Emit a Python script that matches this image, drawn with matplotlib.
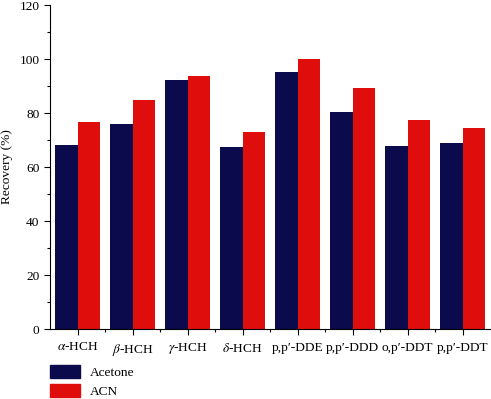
import matplotlib.pyplot as plt
import matplotlib.patches as mpatches
import numpy as np
from matplotlib.ticker import MultipleLocator, FixedLocator

plt.rcParams['font.family'] = ['Liberation Serif', 'DejaVu Serif']
plt.rcParams['mathtext.fontset'] = 'stix'

compounds = [r'$\alpha$-HCH', r'$\beta$-HCH', r'$\gamma$-HCH', r'$\delta$-HCH',
             'p,p\u2032-DDE', 'p,p\u2032-DDD', 'o,p\u2032-DDT', 'p,p\u2032-DDT']
acetone = [68.0, 76.1, 92.4, 67.3, 95.2, 80.3, 67.7, 69.0]
acn = [76.7, 84.8, 93.7, 73.0, 100.0, 89.2, 77.3, 74.6]

navy = '#0b0a4c'
red = '#e00d0d'
fs = 9.6

fig = plt.figure(figsize=(4.91, 3.99), dpi=100)
ax = fig.add_axes([50 / 491, 70 / 399, 440 / 491, 324 / 399])

x = np.arange(1, len(compounds) + 1)
w = 0.41
ax.bar(x - w / 2, acetone, w, color=navy)
ax.bar(x + w / 2, acn, w, color=red)

ax.set_xlim(0.5, len(compounds) + 0.5)
ax.set_ylim(0, 120)
ax.set_xticks(x)
ax.set_xticklabels(compounds, fontsize=fs)
ax.xaxis.set_minor_locator(FixedLocator(np.arange(1.5, len(compounds), 1)))
ax.yaxis.set_major_locator(MultipleLocator(20))
ax.yaxis.set_minor_locator(MultipleLocator(10))
ax.tick_params(axis='both', which='major', direction='out', length=4, width=0.8, labelsize=fs)
ax.tick_params(axis='x', which='major', pad=5)
ax.tick_params(axis='both', which='minor', direction='out', length=2.5, width=0.8)
ax.set_ylabel('Recovery (%)', fontsize=fs, labelpad=5)

for s in ['top', 'right']:
    ax.spines[s].set_visible(False)

handles = [mpatches.Patch(color=navy, label='Acetone'),
           mpatches.Patch(color=red, label='ACN')]
fig.legend(handles=handles, loc='lower left', bbox_to_anchor=(49 / 491, 0.0),
           frameon=False, fontsize=fs, handlelength=2.2, handleheight=1.1,
           labelspacing=0.35, handletextpad=0.75, borderaxespad=0, borderpad=0.1)

fig.savefig('out.png', dpi=100)
